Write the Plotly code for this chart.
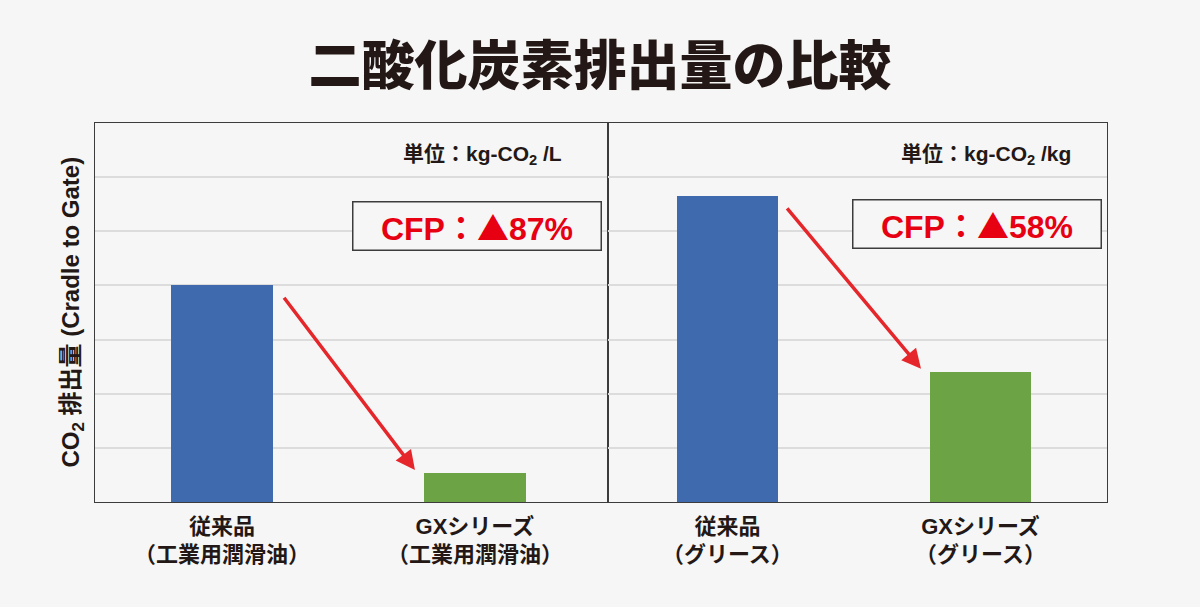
import plotly.graph_objects as go

# data (no tick labels, grid step = 1 unit)
categories_oil = ["従来品<br>（工業用潤滑油）", "GXシリーズ<br>（工業用潤滑油）"]
categories_grease = ["従来品<br>（グリース）", "GXシリーズ<br>（グリース）"]
co2_oil = [4.0, 0.53]
co2_grease = [5.65, 2.4]
bar_colors = ["#3f6aad", "#6ca345"]
unit_oil = "単位：kg-CO<sub>2</sub> /L"
unit_grease = "単位：kg-CO<sub>2</sub> /kg"
TRI = "<span style='font-family:Noto Sans CJK JP'>▲</span>"
cfp_oil = "CFP：" + TRI + "87%"
cfp_grease = "CFP：" + TRI + "58%"

BG = "#f6f6f6"
FRAME = "#3c3c3c"
GRID = "#dcdcdc"
RED = "#e60012"
DARK = "#231815"
FONT = "Liberation Sans, Noto Sans CJK JP, sans-serif"

fig = go.Figure()
fig.add_trace(go.Bar(x=[0, 1], y=co2_oil, width=0.4, marker_color=bar_colors,
                     marker_line_width=0, xaxis="x", yaxis="y", showlegend=False))
fig.add_trace(go.Bar(x=[0, 1], y=co2_grease, width=0.4, marker_color=bar_colors,
                     marker_line_width=0, xaxis="x2", yaxis="y2", showlegend=False))

axis_common = dict(showline=True, linecolor=FRAME, linewidth=1.3, mirror=True,
                   zeroline=False, fixedrange=True)
tickfont = dict(family=FONT, size=22, color=DARK, weight="bold")

fig.update_layout(
    width=1200, height=607,
    paper_bgcolor=BG, plot_bgcolor=BG,
    margin=dict(l=95, r=93, t=123, b=105),
    title=dict(text="二酸化炭素排出量の比較", x=0.5, xanchor="center",
               yref="container", y=1 - 66 / 607, yanchor="middle",
               font=dict(family="Noto Sans CJK JP", size=53, color=DARK, weight=900)),
    xaxis=dict(domain=[0, 0.5069], range=[-0.502, 1.526], tickvals=[0, 1],
               ticktext=categories_oil, tickfont=tickfont, ticks="",
               ticklabelstandoff=4, showgrid=False, **axis_common),
    xaxis2=dict(domain=[0.5069, 1], range=[-0.472, 1.5], tickvals=[0, 1],
                ticktext=categories_grease, tickfont=tickfont, ticks="",
                ticklabelstandoff=4, showgrid=False, anchor="y2", **axis_common),
    yaxis=dict(range=[0, 7], dtick=1, showticklabels=False, showgrid=True,
               gridcolor=GRID, gridwidth=2, anchor="x", **axis_common),
    yaxis2=dict(range=[0, 7], dtick=1, showticklabels=False, showgrid=True,
                gridcolor=GRID, gridwidth=2, anchor="x2", **axis_common),
    bargap=0,
)

# unit labels
for xr, yr, txt, xc in [("x", "y", unit_oil, 1.028), ("x2", "y2", unit_grease, 1.02)]:
    fig.add_annotation(xref=xr, yref=yr, x=xc, y=6.41, text=txt, showarrow=False,
                       font=dict(family=FONT, size=21, color=DARK, weight="bold"))

# CFP boxes
for xr, yr, txt, xc, yc in [("x", "y", cfp_oil, 1.01, 5.09),
                            ("x2", "y2", cfp_grease, 0.986, 5.13)]:
    fig.add_annotation(xref=xr, yref=yr, x=xc, y=yc, text=txt, showarrow=False,
                       width=247, height=47, bordercolor=FRAME, borderwidth=1.5,
                       borderpad=0, bgcolor=BG,
                       font=dict(family=FONT, size=32, color=RED, weight="bold"))

# red arrows from the conventional bar down to the GX bar
for xr, yr, vals, tail_x, head_x in [("x", "y", co2_oil, 0.241, 0.763),
                                     ("x2", "y2", co2_grease, 0.231, 0.765)]:
    fig.add_annotation(xref=xr, yref=yr, axref=xr, ayref=yr,
                       x=head_x, y=vals[1] + 0.06, ax=tail_x, ay=vals[0] - 0.2,
                       showarrow=True, arrowhead=2, arrowsize=1.1, arrowwidth=3.5,
                       arrowcolor="#e5262b", standoff=0, text="")

# y axis title
fig.add_annotation(xref="paper", yref="paper", x=-0.0227, y=0.5, textangle=-90,
                   xanchor="center", yanchor="middle",
                   text="CO<sub>2</sub> 排出量 (Cradle to Gate)", showarrow=False,
                   font=dict(family=FONT, size=24, color=DARK, weight="bold"))

fig.write_html("out.html", config={"displayModeBar": False},
               post_script="document.body.style.margin='0';"
                           "document.body.style.background='#f6f6f6';")
